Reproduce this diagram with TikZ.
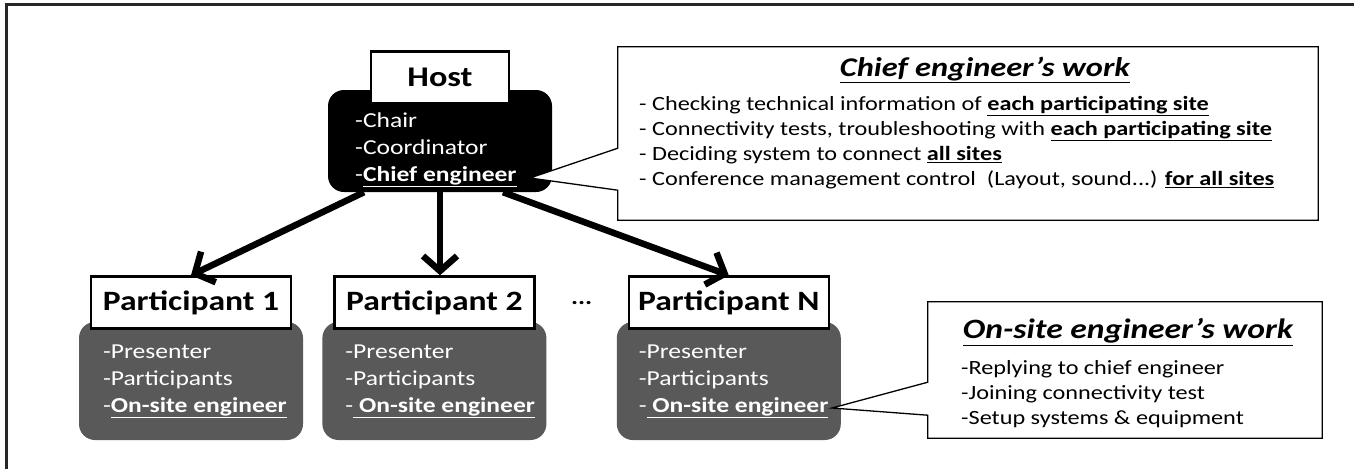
\documentclass[tikz,border=0pt]{standalone}
\usepackage{fontspec}
\setmainfont{Carlito}[FakeStretch=1.2]
\usepackage{tikz}
\usetikzlibrary{arrows.meta,positioning,calc}

\definecolor{sitegray}{HTML}{595959}

\begin{document}
\begin{tikzpicture}[x=1pt, y=-1pt, node distance=19pt, >={Straight Barb[length=15pt,width=34pt]}]
        \tikzstyle{hdr} = [rectangle, draw, line width=2.5pt, fill=white, minimum width=200pt, minimum height=52pt, inner sep=0pt, font=\fontsize{28}{32}\selectfont\bfseries]
        \tikzstyle{site} = [rectangle, rounded corners=16pt, fill=sitegray, minimum width=224pt, minimum height=118pt]
        \tikzstyle{list} = [anchor=west, align=left, text=white, inner sep=0pt, font=\fontsize{21.3}{27}\selectfont]
        \tikzstyle{title} = [inner sep=0pt, font=\bfseries\itshape]
        \tikzstyle{work} = [anchor=west, align=left, inner sep=0pt]
        \tikzstyle{call} = [draw, fill=white, line width=1.3pt]
        \tikzstyle{line} = [draw, ->, line width=6.5pt]

        \useasboundingbox (0,0) rectangle (1354,469);
        \draw [line width=3pt, black!85] (6,469) -- (6,4) -- (1354,4);

        % host
        \node [rectangle, rounded corners=16pt, fill=black, minimum width=224pt, minimum height=102pt] (host) at (440,141) {};
        \node [hdr, minimum width=138pt, above=-15pt of host, font=\fontsize{28.5}{32}\selectfont\bfseries] (hosth) {Host};
        \node [list] (hostlist) at (355,150) {-Chair\\-Coordinator\\-\underline{\textbf{Chief engineer}}};

        % sites
        \node [site] (p1) at (191,381) {};
        \node [site, right=of p1] (p2) {};
        \node [site, right=70pt of p2] (pn) {};
        \node [hdr, above=-8pt of p1] (p1h) {Participant 1};
        \node [hdr, above=-8pt of p2] (p2h) {Participant 2};
        \node [hdr, above=-8pt of pn] (pnh) {Participant N};
        \node [font=\fontsize{22}{26}\selectfont\bfseries] (dots) at ($(p2h.east)!.5!(pnh.west)$) {...};
        \node [list] (p1list) at ([xshift=24pt]p1.west) {-Presenter\\-Participants\\-\underline{\textbf{On-site engineer}}};
        \node [list] (p2list) at ([xshift=23pt]p2.west) {-Presenter\\-Participants\\-\underline{\ \textbf{On-site engineer}}};
        \node [list] (pnlist) at ([xshift=22pt]pn.west) {-Presenter\\-Participants\\-\underline{\ \textbf{On-site engineer}}};

        \path [line] ([xshift=-76pt]host.south) -- (p1h.north);
        \path [line] (host.south) -- (host.south |- p2h.north);
        \path [line] ([xshift=63pt]host.south) -- (pnh.north);

        % chief engineer callout
        \node [minimum width=700pt, minimum height=173pt] (chief) at (968,133.5) {};
        \coordinate (chieftip) at (530,178);
        \draw [call] (chief.north west) -- (chief.north east) -- (chief.south east) -- (chief.south west) -- ($(chief.south west)+(0,-30)$) -- (chieftip) -- ($(chief.south west)+(0,-72)$) -- cycle;
        \node [title, font=\fontsize{27}{30}\selectfont\bfseries\itshape] (chieftitle) at (985,70) {\underline{Chief engineer’s work}};
        \node [work, font=\fontsize{20.2}{25}\selectfont] (chiefwork) at (639,142.5) {- Checking technical information of \underline{\textbf{each participating site}}\\- Connectivity tests, troubleshooting with \underline{\textbf{each participating site}}\\- Deciding system to connect \underline{\textbf{all sites}}\\- Conference management control~~(Layout, sound...) \underline{\textbf{for all sites}}};

        % on-site engineer callout
        \node [minimum width=394pt, minimum height=136pt] (onsite) at (1125,370) {};
        \coordinate (sitetip) at (832,408);
        \draw [call] (onsite.north west) -- (onsite.north east) -- (onsite.south east) -- (onsite.south west) -- ($(onsite.south west)+(0,-23)$) -- (sitetip) -- ($(onsite.south west)+(0,-56)$) -- cycle;
        \node [title, font=\fontsize{28}{32}\selectfont\bfseries\itshape] (sitetitle) at (1128,332) {\underline{On-site engineer’s work}};
        \node [work, font=\fontsize{20.2}{25}\selectfont] (sitework) at (961,394) {-Replying to chief engineer\\-Joining connectivity test\\-Setup systems \& equipment};
    \end{tikzpicture}
\end{document}
